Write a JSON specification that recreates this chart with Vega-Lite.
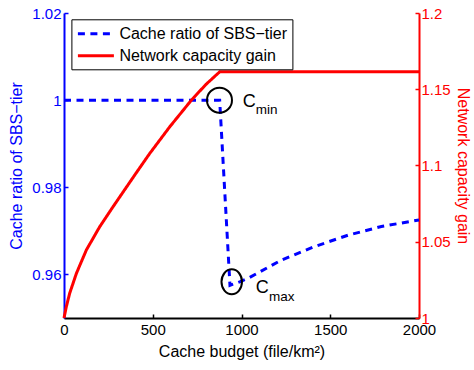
{
  "$schema": "https://vega.github.io/schema/vega-lite/v6.json",
  "width": 355,
  "height": 305,
  "autosize": {"type": "none"},
  "padding": {"left": 64, "top": 13, "right": 55, "bottom": 52},
  "background": "white",
  "config": {
    "view": {"stroke": null},
    "font": "Liberation Sans",
    "axis": {
      "grid": false,
      "labelFont": "Liberation Sans",
      "titleFont": "Liberation Sans",
      "labelFontSize": 15,
      "titleFontSize": 16,
      "titleFontWeight": "normal",
      "tickSize": -4,
      "tickWidth": 1.5,
      "domainWidth": 2,
      "labelPadding": 4,
      "labelFlush": false,
      "labelOverlap": false
    },
    "legend": {
      "labelFont": "Liberation Sans",
      "labelFontSize": 16,
      "labelColor": "black",
      "labelLimit": 400
    }
  },
  "datasets": {
    "ratio": [
      {"x": 0, "y": 1.0, "series": "Cache ratio of SBS−tier"},
      {"x": 877, "y": 1.0, "series": "Cache ratio of SBS−tier"},
      {"x": 935, "y": 0.9575, "series": "Cache ratio of SBS−tier"},
      {"x": 990, "y": 0.9583, "series": "Cache ratio of SBS−tier"},
      {"x": 1037, "y": 0.9591, "series": "Cache ratio of SBS−tier"},
      {"x": 1225, "y": 0.9633, "series": "Cache ratio of SBS−tier"},
      {"x": 1412, "y": 0.9664, "series": "Cache ratio of SBS−tier"},
      {"x": 1600, "y": 0.969, "series": "Cache ratio of SBS−tier"},
      {"x": 1788, "y": 0.971, "series": "Cache ratio of SBS−tier"},
      {"x": 2000, "y": 0.9725, "series": "Cache ratio of SBS−tier"}
    ],
    "gain": [
      {"x": 0, "g": 1.0, "series": "Network capacity gain"},
      {"x": 13, "g": 1.0074, "series": "Network capacity gain"},
      {"x": 32, "g": 1.0162, "series": "Network capacity gain"},
      {"x": 70, "g": 1.0293, "series": "Network capacity gain"},
      {"x": 126, "g": 1.0446, "series": "Network capacity gain"},
      {"x": 201, "g": 1.0598, "series": "Network capacity gain"},
      {"x": 276, "g": 1.0729, "series": "Network capacity gain"},
      {"x": 340, "g": 1.0838, "series": "Network capacity gain"},
      {"x": 400, "g": 1.094, "series": "Network capacity gain"},
      {"x": 483, "g": 1.1079, "series": "Network capacity gain"},
      {"x": 596, "g": 1.1254, "series": "Network capacity gain"},
      {"x": 718, "g": 1.1429, "series": "Network capacity gain"},
      {"x": 800, "g": 1.1532, "series": "Network capacity gain"},
      {"x": 877, "g": 1.1614, "series": "Network capacity gain"},
      {"x": 2000, "g": 1.1614, "series": "Network capacity gain"}
    ],
    "cmin": [{"x": 876, "y": 1.0}],
    "cmax": [{"x": 945, "y": 0.9583}],
    "bigC": [
      {"x": 1007, "y": 0.99836, "label": "C"},
      {"x": 1080, "y": 0.95567, "label": "C"}
    ],
    "subs": [
      {"x": 1080, "y": 0.99675, "label": "min"},
      {"x": 1155, "y": 0.95397, "label": "max"}
    ]
  },
  "resolve": {"scale": {"y": "independent"}},
  "layer": [
    {
      "encoding": {
        "x": {
          "field": "x", "type": "quantitative",
          "scale": {"domain": [0, 2000], "nice": false, "zero": false},
          "axis": {"title": "Cache budget (file/km²)", "values": [0, 500, 1000, 1500, 2000], "format": "d", "domainColor": "black", "tickColor": "black", "labelColor": "black", "titleColor": "black", "labelPadding": 8, "titlePadding": 6}
        },
        "y": {
          "field": "y", "type": "quantitative",
          "scale": {"domain": [0.95, 1.02], "nice": false, "zero": false},
          "axis": {"title": "Cache ratio of SBS−tier", "orient": "left", "values": [0.96, 0.98, 1, 1.02], "format": "~g", "domainColor": "#0000FF", "tickColor": "#0000FF", "labelColor": "#0000FF", "titleColor": "#0000FF", "labelPadding": 7, "titlePadding": 7}
        }
      },
      "layer": [
        {
          "data": {"name": "ratio"},
          "mark": {"type": "line", "strokeWidth": 3, "interpolate": "linear"},
          "encoding": {
            "color": {"field": "series", "type": "nominal",
              "scale": {"domain": ["Cache ratio of SBS−tier", "Network capacity gain"], "range": ["#0000FF", "#FF0000"]},
              "legend": {"title": null, "orient": "none", "legendX": 7.4, "legendY": 6.3, "strokeColor": "black", "fillColor": "white", "padding": 5, "symbolType": "M-1,0H3.5", "symbolSize": 256, "symbolStrokeWidth": 3, "labelOffset": 24, "rowPadding": 4}
            },
            "strokeDash": {"field": "series", "type": "nominal",
              "scale": {"domain": ["Cache ratio of SBS−tier", "Network capacity gain"], "range": [[7, 5.5], [1, 0]]},
              "legend": {"title": null, "orient": "none", "legendX": 7.4, "legendY": 6.3, "strokeColor": "black", "fillColor": "white", "padding": 5, "symbolType": "M-1,0H3.5", "symbolSize": 256, "symbolStrokeWidth": 3, "labelOffset": 24, "rowPadding": 4}
            }
          }
        },
        {
          "data": {"name": "cmin"},
          "mark": {"type": "point", "shape": "circle", "size": 625, "filled": false, "stroke": "black", "strokeWidth": 2, "opacity": 1}
        },
        {
          "data": {"name": "cmax"},
          "mark": {"type": "point", "shape": "M-0.82,0A0.82,1,0,1,0,0.82,0A0.82,1,0,1,0,-0.82,0Z", "size": 625, "filled": false, "stroke": "black", "strokeWidth": 2, "opacity": 1}
        },
        {
          "data": {"name": "bigC"},
          "mark": {"type": "text", "fontSize": 18, "align": "left", "baseline": "alphabetic", "color": "black", "font": "Liberation Sans"},
          "encoding": {"text": {"field": "label"}}
        },
        {
          "data": {"name": "subs"},
          "mark": {"type": "text", "fontSize": 13.5, "align": "left", "baseline": "alphabetic", "color": "black", "font": "Liberation Sans"},
          "encoding": {"text": {"field": "label"}}
        }
      ]
    },
    {
      "data": {"name": "gain"},
      "mark": {"type": "line", "strokeWidth": 3},
      "encoding": {
        "x": {"field": "x", "type": "quantitative", "scale": {"domain": [0, 2000], "nice": false, "zero": false}},
        "y": {
          "field": "g", "type": "quantitative",
          "scale": {"domain": [1, 1.2], "nice": false, "zero": false},
          "axis": {"title": "Network capacity gain", "orient": "right", "values": [1, 1.05, 1.1, 1.15, 1.2], "format": "~g", "domainColor": "#FF0000", "tickColor": "#FF0000", "labelColor": "#FF0000", "titleColor": "#FF0000", "labelPadding": 6, "titlePadding": 4}
        },
        "color": {"field": "series", "type": "nominal", "scale": {"domain": ["Cache ratio of SBS−tier", "Network capacity gain"], "range": ["#0000FF", "#FF0000"]}},
        "strokeDash": {"field": "series", "type": "nominal", "scale": {"domain": ["Cache ratio of SBS−tier", "Network capacity gain"], "range": [[7, 5.5], [1, 0]]}}
      }
    }
  ]
}
